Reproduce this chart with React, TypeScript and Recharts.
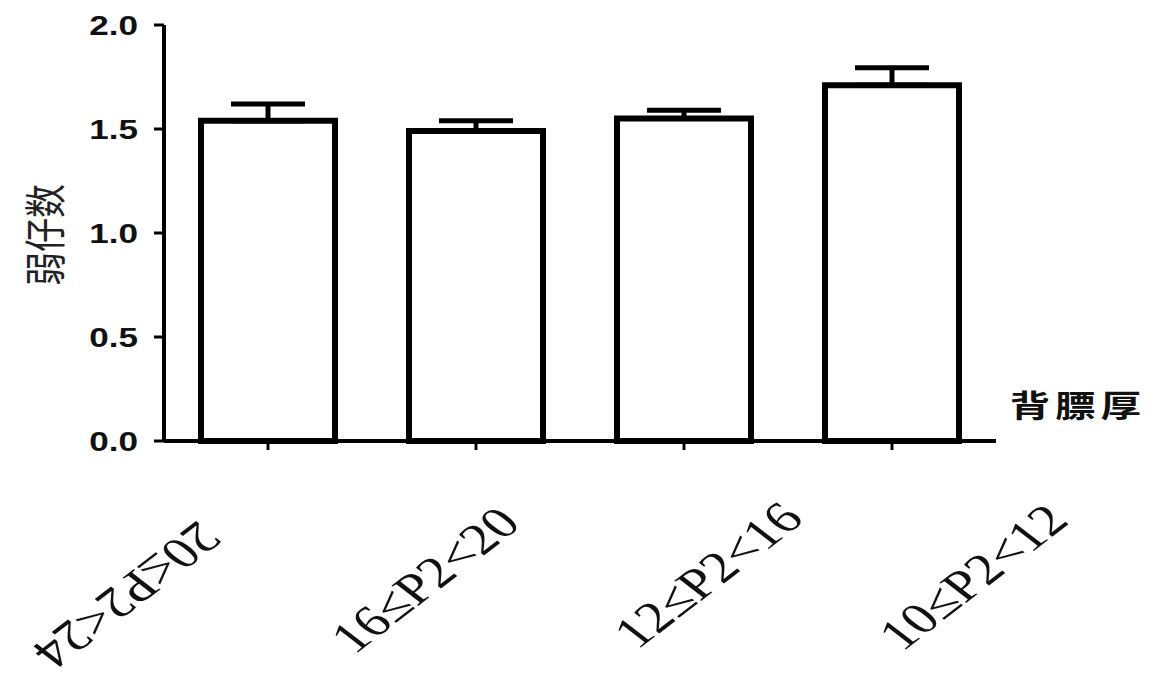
import { Bar, BarChart, ErrorBar, XAxis, YAxis } from "recharts"

const groups = ["20≤P2<24", "16≤P2<20", "12≤P2<16", "10≤P2<12"]
const weakPiglets = [1.54, 1.49, 1.55, 1.71]
const upperErr = [0.08, 0.05, 0.04, 0.085]
const yTicks = [0, 0.5, 1, 1.5, 2]

const data = groups.map((g, i) => ({ group: g, value: weakPiglets[i], err: [0, upperErr[i]] }))

// label placement relative to tick (the source figure has hand-placed labels)
const labelShift = [
  { dx: -141, dy: 154, angle: 135 },
  { dx: -51, dy: 139, angle: -45 },
  { dx: 24, dy: 134, angle: -45 },
  { dx: 81, dy: 136, angle: -45 },
]

const XTick = (props: any) => {
  const { x, payload, index } = props
  const s = labelShift[index] ?? labelShift[1]
  return (
    <g transform={`translate(${x + s.dx},${441 + s.dy}) scale(1.3,1) rotate(${s.angle})`}>
      <text
        textAnchor="middle"
        dominantBaseline="central"
        fontFamily="'Liberation Serif', serif"
        fontSize={44}
        fill="#111"
      >
        {payload.value}
      </text>
    </g>
  )
}

const YTick = (props: any) => {
  const { x, y, payload } = props
  return (
    <g transform={`translate(${x},${y}) scale(1.3,1)`}>
      <text textAnchor="end" dy="0.36em" fontFamily="'Liberation Sans', Arial, sans-serif" fontWeight={700} fontSize={27} fill="#111">
        {payload.value.toFixed(1)}
      </text>
    </g>
  )
}

export default function App() {
  return (
    <div style={{ position: "fixed", left: 0, top: 0, background: "#fff" }}>
      <BarChart width={1158} height={678} data={data} margin={{ top: 25, right: 162, left: 0, bottom: 0 }}>
        <XAxis
          dataKey="group"
          height={237}
          stroke="#000"
          strokeWidth={4}
          tickSize={9}
          tickLine={{ stroke: "#000", strokeWidth: 3 }}
          tick={<XTick />}
          interval={0}
          label={{
            content: () => (
              <g transform="translate(1078,403) scale(1.3,1)">
                <text textAnchor="middle" dominantBaseline="central" fontFamily="'Noto Sans CJK SC'" fontWeight={700} fontSize={31} fill="#111" letterSpacing={4}>
                  背膘厚
                </text>
              </g>
            ),
          }}
        />
        <YAxis
          domain={[0, 2]}
          ticks={yTicks}
          width={164}
          stroke="#000"
          strokeWidth={4}
          tickSize={10}
          tickMargin={16}
          tickLine={{ stroke: "#000", strokeWidth: 3 }}
          tick={<YTick />}
          label={{
            content: () => (
              <g transform="translate(42,235) scale(1.25,1) rotate(-90)">
                <text textAnchor="middle" dominantBaseline="central" fontFamily="'Noto Sans CJK SC'" fontSize={34} fill="#222">
                  弱仔数
                </text>
              </g>
            ),
          }}
        />
        <Bar dataKey="value" barSize={134} fill="#fff" stroke="#000" strokeWidth={6} isAnimationActive={false}>
          <ErrorBar dataKey="err" direction="y" width={37} stroke="#000" strokeWidth={5} isAnimationActive={false} />
        </Bar>
      </BarChart>
    </div>
  )
}
